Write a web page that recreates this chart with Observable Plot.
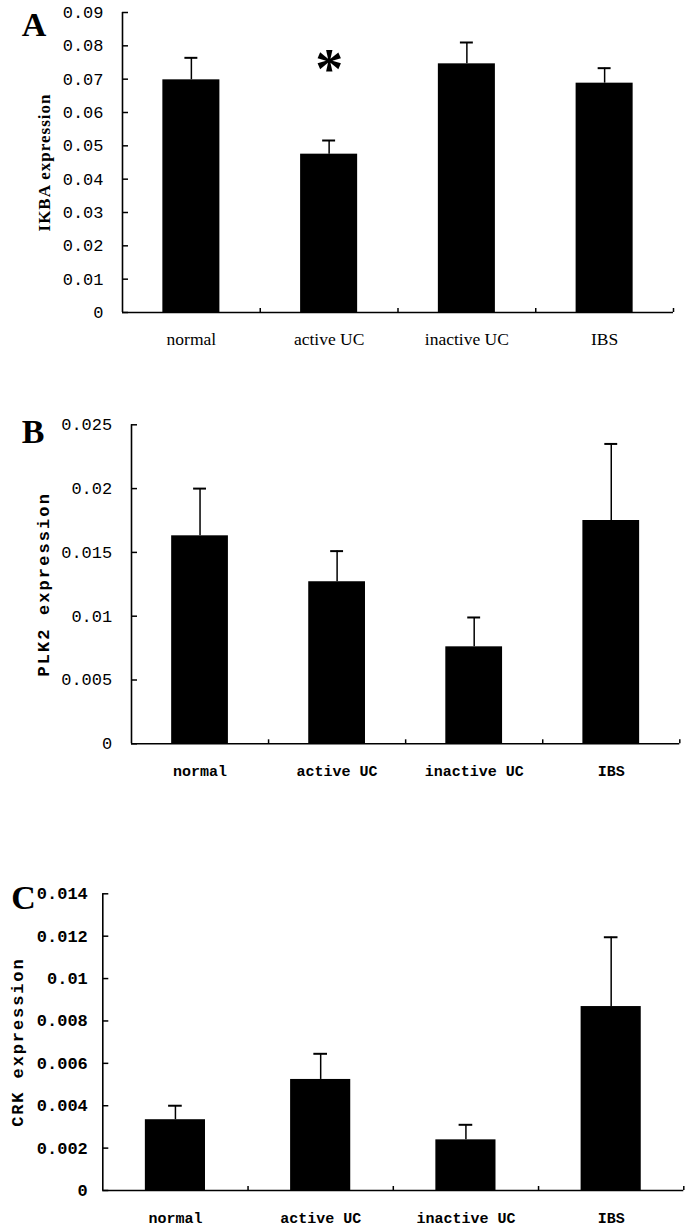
<!DOCTYPE html>
<html><head><meta charset="utf-8">
<script src="https://cdn.jsdelivr.net/npm/d3@7"></script>
<script src="https://cdn.jsdelivr.net/npm/@observablehq/plot@0.6"></script>
<style>
html,body{margin:0;padding:0;background:#fff;overflow:hidden;}
#chart svg{display:block;}
</style></head><body><div id="chart"></div>
<script>
const categories = ["normal", "active UC", "inactive UC", "IBS"];

const ikbaMean = [0.0698, 0.0475, 0.0746, 0.0688];
const ikbaErr  = [0.0066, 0.0041, 0.0064, 0.0045];
const ikbaSig  = ["", "*", "", ""];
const ikbaTicks = [0, 0.01, 0.02, 0.03, 0.04, 0.05, 0.06, 0.07, 0.08, 0.09];

const plk2Mean = [0.0163, 0.0127, 0.0076, 0.0175];
const plk2Err  = [0.0037, 0.0024, 0.0023, 0.0060];
const plk2Ticks = [0, 0.005, 0.01, 0.015, 0.02, 0.025];

const crkMean = [0.00334, 0.00524, 0.00239, 0.00868];
const crkErr  = [0.00066, 0.00121, 0.00071, 0.00327];
const crkTicks = [0, 0.002, 0.004, 0.006, 0.008, 0.01, 0.012, 0.014];

const fmt = d => d === 0 ? "0" : String(d);

function panel(o) {
  const data = categories.map((c, i) => ({
    c, i, mean: o.mean[i], upper: o.mean[i] + o.err[i], sig: o.sig ? o.sig[i] : ""
  }));
  const half = 0.207, cap = 0.047;
  const marks = [
    Plot.rectY(data, {x1: d => d.i + 0.5 - half, x2: d => d.i + 0.5 + half, y: "mean", fill: "black"}),
    Plot.ruleX(data, {x: d => d.i + 0.5, y1: "mean", y2: "upper", stroke: "black", strokeWidth: 1.5}),
    Plot.ruleY(data, {x1: d => d.i + 0.5 - cap, x2: d => d.i + 0.5 + cap, y: "upper", stroke: "black", strokeWidth: 2}),
    Plot.ruleX([0], {stroke: "black", strokeWidth: 1.6}),
    Plot.ruleY([0], {stroke: "black", strokeWidth: 1.6}),
    Plot.axisY({ticks: o.ticks, tickSize: -6, tickPadding: 6 + o.yGap, tickFormat: fmt,
      fontFamily: "Liberation Mono", fontSize: 17, fontWeight: o.tickWeight, strokeWidth: 1.5, label: null}),
    Plot.axisX({ticks: [1, 2, 3, 4], tickSize: -4, fill: "none", strokeWidth: 1.5, label: null}),
    Plot.axisX({ticks: [0.5, 1.5, 2.5, 3.5], tickSize: 0, tickPadding: o.xPad,
      tickFormat: v => categories[Math.floor(v)], fontFamily: o.xFont, fontSize: o.xSize,
      fontWeight: o.xWeight, label: null}),
    Plot.text([o.title], {text: d => d, frameAnchor: "left", rotate: -90, dx: o.titleDx,
      fontFamily: o.titleFont, fontSize: 17, fontWeight: "bold", textAnchor: "middle",
      lineAnchor: "middle"}),
    Plot.text([o.letter], {text: d => d, frameAnchor: "top-left", dx: o.letterDx, dy: o.letterDy,
      fontFamily: "Liberation Serif", fontSize: 34, fontWeight: "bold", textAnchor: "middle",
      lineAnchor: "middle"})
  ];
  if (o.sig) {
    marks.push(Plot.text(data.filter(d => d.sig), {x: d => d.i + 0.5, y: "upper", text: "sig",
      dy: -70, fontFamily: "Liberation Serif", fontSize: 56, fontWeight: "bold",
      lineAnchor: "middle", textAnchor: "middle"}));
  }
  const svg = Plot.plot({
    width: 689, height: o.height,
    marginTop: o.mt, marginBottom: o.mb, marginLeft: o.ml, marginRight: o.mr,
    x: {domain: [0, 4]},
    y: {domain: [0, o.ticks[o.ticks.length - 1]]},
    style: {background: "white", color: "black"},
    marks
  });
  d3.select(svg).selectAll("text").each(function() {
    if (this.textContent === o.title) this.style.letterSpacing = o.titleSpacing + "px";
  });
  return svg;
}

const chart = document.getElementById("chart");
chart.appendChild(panel({
  mean: ikbaMean, err: ikbaErr, sig: ikbaSig, ticks: ikbaTicks,
  height: 360, mt: 12, mb: 48, ml: 122, mr: 16, yGap: 19, tickWeight: "normal",
  xPad: 20, xFont: "Liberation Serif", xSize: 17.5, xWeight: "normal",
  title: "IKBA expression", titleDx: -78, titleFont: "Liberation Serif", titleSpacing: 1,
  letter: "A", letterDx: -88.5, letterDy: 12.5
}));
chart.appendChild(panel({
  mean: plk2Mean, err: plk2Err, ticks: plk2Ticks,
  height: 430, mt: 64.3, mb: 46.7, ml: 131, mr: 9.7, yGap: 19.3, tickWeight: "normal",
  xPad: 22, xFont: "Liberation Mono", xSize: 15, xWeight: "bold",
  title: "PLK2 expression", titleDx: -88, titleFont: "Liberation Mono", titleSpacing: 2.1,
  letter: "B", letterDx: -98.5, letterDy: 7.2
}));
chart.appendChild(panel({
  mean: crkMean, err: crkErr, ticks: crkTicks,
  height: 437, mt: 103.3, mb: 37, ml: 102.3, mr: 5.7, yGap: 15, tickWeight: "bold",
  xPad: 22, xFont: "Liberation Mono", xSize: 15, xWeight: "bold",
  title: "CRK expression", titleDx: -85, titleFont: "Liberation Mono", titleSpacing: 1.9,
  letter: "C", letterDx: -79.3, letterDy: 4.7
}));
</script></body></html>
